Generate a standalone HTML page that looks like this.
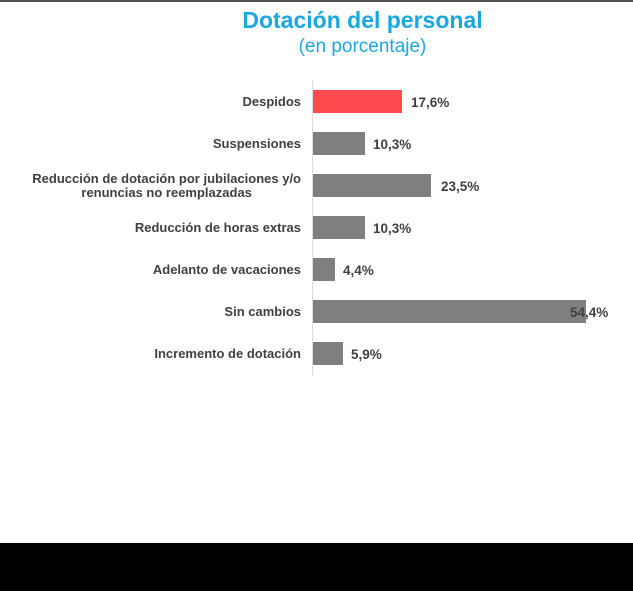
<!DOCTYPE html>
<html><head><meta charset="utf-8"><style>
body{margin:0;width:633px;height:591px;background:#fff;position:relative;overflow:hidden;font-family:"Liberation Sans",Arial,sans-serif}
.t{position:absolute;left:0;width:725px;text-align:center;color:#1aa7e1}
.l{position:absolute;right:332px;font-size:13px;font-weight:bold;color:#404040;text-align:center;line-height:14px}
.b{position:absolute;left:313px;height:23px;background:#7f7f7f}
.v{position:absolute;font-size:13.5px;font-weight:bold;color:#404040}
</style></head><body>
<div style="position:absolute;left:0;top:0;width:633px;height:2px;background:#555"></div>
<div class="t" style="top:7px;font-size:23px;font-weight:bold">Dotación del personal</div>
<div class="t" style="top:36px;font-size:19px">(en porcentaje)</div>
<div style="position:absolute;left:312px;top:80px;width:1px;height:296px;background:#ddd"></div>

<div class="l" style="top:95px">Despidos</div>
<div class="b" style="top:90px;width:89px;background:#ff4b50"></div>
<div class="v" style="left:411px;top:95px">17,6%</div>

<div class="l" style="top:137px">Suspensiones</div>
<div class="b" style="top:132px;width:52px"></div>
<div class="v" style="left:373px;top:137px">10,3%</div>

<div class="l" style="top:172px">Reducción de dotación por jubilaciones y/o<br>renuncias no reemplazadas</div>
<div class="b" style="top:174px;width:118px"></div>
<div class="v" style="left:441px;top:179px">23,5%</div>

<div class="l" style="top:221px">Reducción de horas extras</div>
<div class="b" style="top:216px;width:52px"></div>
<div class="v" style="left:373px;top:221px">10,3%</div>

<div class="l" style="top:263px">Adelanto de vacaciones</div>
<div class="b" style="top:258px;width:22px"></div>
<div class="v" style="left:343px;top:263px">4,4%</div>

<div class="l" style="top:305px">Sin cambios</div>
<div class="b" style="top:300px;width:273px"></div>
<div class="v" style="left:570px;top:305px">54,4%</div>

<div class="l" style="top:347px">Incremento de dotación</div>
<div class="b" style="top:342px;width:30px"></div>
<div class="v" style="left:351px;top:347px">5,9%</div>

<div style="position:absolute;left:0;top:543px;width:633px;height:48px;background:#000"></div>
</body></html>
